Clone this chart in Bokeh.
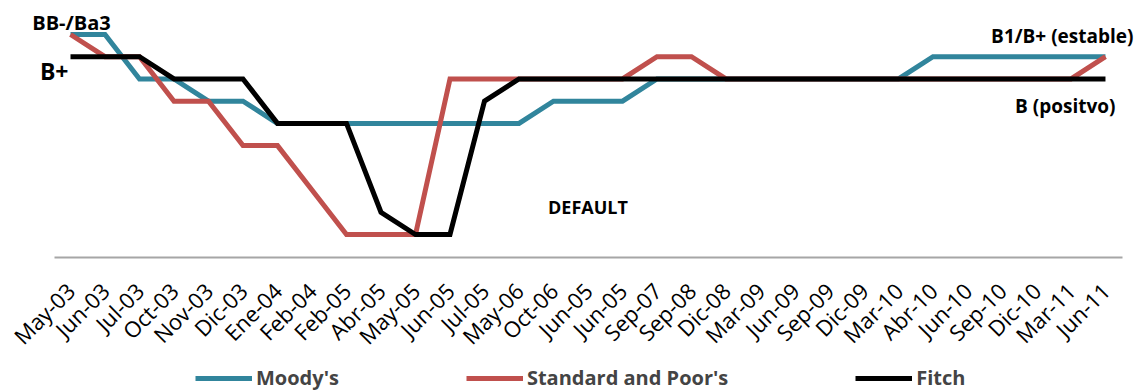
from math import pi
from bokeh.plotting import figure
from bokeh.models import Range1d, FixedTicker, Legend, LegendItem, Label
from bokeh.embed import file_html
from bokeh.resources import INLINE

categories = ["May-03", "Jun-03", "Jul-03", "Oct-03", "Nov-03", "Dic-03", "Ene-04", "Feb-04",
              "Feb-05", "Abr-05", "May-05", "Jun-05", "Jul-05", "May-06", "Oct-06", "Jun-05",
              "Jun-05", "Sep-07", "Sep-08", "Dic-08", "Mar-09", "Jun-09", "Sep-09", "Dic-09",
              "Mar-10", "Abr-10", "Jun-10", "Sep-10", "Dic-10", "Mar-11", "Jun-11"]

# rating notch (0 = default ... 9 = BB-/Ba3)
moodys = [9, 9, 7, 7, 6, 6, 5, 5, 5, 5, 5, 5, 5, 5, 6, 6, 6, 7, 7, 7, 7, 7, 7, 7, 7, 8, 8, 8, 8, 8, 8]
sp     = [9, 8, 8, 6, 6, 4, 4, 2, 0, 0, 0, 7, 7, 7, 7, 7, 7, 8, 8, 7, 7, 7, 7, 7, 7, 7, 7, 7, 7, 7, 8]
fitch  = [8, 8, 8, 7, 7, 7, 5, 5, 5, 1, 0, 0, 6, 7, 7, 7, 7, 7, 7, 7, 7, 7, 7, 7, 7, 7, 7, 7, 7, 7, 7]

series_names = ["Moody's", "Standard and Poor's", "Fitch"]
colors = ["#31859C", "#C0504D", "#000000"]

xs = list(range(len(categories)))
FONT = "Open Sans"

p = figure(width=1138, height=392, output_backend="svg", toolbar_location=None,
           x_range=Range1d(-2.029, 30.957), y_range=Range1d(-7.11, 10.53),
           y_axis_location=None, min_border_left=0, min_border_right=0,
           min_border_top=0, min_border_bottom=0)
p.outline_line_color = None
p.xgrid.visible = False
p.ygrid.visible = False
p.background_fill_color = "white"
p.border_fill_color = "white"

renderers = []
for vals, col in zip([moodys, sp, fitch], colors):
    r = p.line(xs, vals, line_color=col, line_width=5, line_join="miter")
    renderers.append(r)

ax = p.xaxis[0]
ax.fixed_location = -1.035
ax.bounds = (-0.46, 30.49)
ax.ticker = FixedTicker(ticks=xs)
ax.major_label_overrides = {i: c for i, c in enumerate(categories)}
ax.major_label_orientation = pi / 4
ax.major_label_standoff = 23
ax.major_label_text_font = FONT
ax.major_label_text_font_size = "22px"
ax.major_label_text_color = "#000000"
ax.axis_line_color = "#A6A6A6"
ax.axis_line_width = 2
ax.major_tick_line_color = None
ax.minor_tick_line_color = None

legend = Legend(items=[LegendItem(label=n, renderers=[r]) for n, r in zip(series_names, renderers)],
                orientation="horizontal", location=(195, 1),
                label_text_font=FONT, label_text_font_size="20px", label_text_font_style="bold",
                glyph_width=57, glyph_height=20, label_standoff=4, spacing=127,
                padding=0, margin=0, border_line_color=None, background_fill_alpha=0)
p.add_layout(legend, "center")

def add_label(text, x, y, xo, yo, align, size):
    p.add_layout(Label(x=x, y=y, x_offset=xo, y_offset=yo, text=text, text_align=align,
                       text_baseline="middle", text_font=FONT, text_font_size=size,
                       text_font_style="bold", text_color="#000000"))

last = len(categories) - 1
add_label("BB-/Ba3", 0, moodys[0], 1, 12, "center", "20px")
add_label("B+", 0, fitch[0], -2, -14, "right", "23px")
add_label("B1/B+ (estable)", last, moodys[last], 28, 21, "right", "19px")
add_label("B (positvo)", last, fitch[last], 10, -27, "right", "19px")
add_label("DEFAULT", 15, 0, 0, 28, "center", "18px")

open("out.html", "w").write(file_html(p, INLINE))
